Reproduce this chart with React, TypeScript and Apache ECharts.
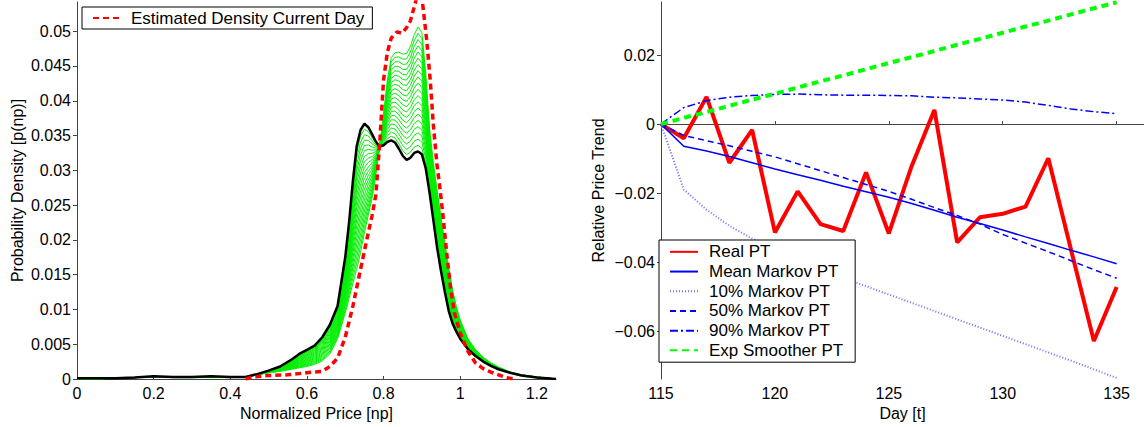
import React, { useEffect, useRef } from "react";
import * as echarts from "echarts";

const FONT = "'Liberation Sans', Arial, Helvetica, sans-serif";

// ---------- Left panel: densities ----------
const PRICE_X = [0, 0.05, 0.1, 0.15, 0.2, 0.25, 0.3, 0.35, 0.4, 0.44, 0.47, 0.5, 0.53, 0.56, 0.58, 0.6, 0.62, 0.64, 0.66, 0.68, 0.7, 0.71, 0.72, 0.73, 0.74, 0.75, 0.76, 0.77, 0.78, 0.79, 0.8, 0.81, 0.82, 0.83, 0.84, 0.85, 0.86, 0.87, 0.88, 0.89, 0.9, 0.91, 0.92, 0.93, 0.94, 0.95, 0.96, 0.97, 0.98, 0.99, 1.0, 1.02, 1.04, 1.06, 1.08, 1.1, 1.13, 1.16, 1.2, 1.25];

// black curve (starting density)
const START_DENSITY = [0.0001, 0.0001, 0.0001, 0.0002, 0.0004, 0.0003, 0.0003, 0.0004, 0.0003, 0.0003, 0.0007, 0.0012, 0.0018, 0.0028, 0.0036, 0.0042, 0.0048, 0.006, 0.0078, 0.0105, 0.0175, 0.0225, 0.0285, 0.0335, 0.0358, 0.0367, 0.0362, 0.0352, 0.0341, 0.0334, 0.0336, 0.0341, 0.0343, 0.034, 0.0331, 0.0321, 0.0315, 0.0318, 0.0325, 0.0327, 0.0323, 0.0303, 0.0268, 0.0228, 0.0188, 0.0155, 0.0125, 0.0098, 0.008, 0.0068, 0.0058, 0.0043, 0.0033, 0.0025, 0.0019, 0.0014, 0.0009, 0.0005, 0.0002, 0];

// top-most green curve (last iteration)
const END_DENSITY = [0, 0, 0.0001, 0.0002, 0.0003, 0.0002, 0.0002, 0.0002, 0.0002, 0.0003, 0.0006, 0.0009, 0.0011, 0.0014, 0.0016, 0.0018, 0.0021, 0.0026, 0.0036, 0.0058, 0.0095, 0.0116, 0.0138, 0.0158, 0.0182, 0.021, 0.0235, 0.026, 0.0295, 0.0335, 0.038, 0.043, 0.0462, 0.0469, 0.047, 0.0467, 0.0468, 0.0478, 0.0495, 0.0506, 0.0498, 0.044, 0.036, 0.031, 0.027, 0.0232, 0.0195, 0.016, 0.0128, 0.0104, 0.0085, 0.0058, 0.0042, 0.0031, 0.0023, 0.0017, 0.001, 0.0006, 0.0003, 0];

// progress of each green iteration from black toward the last curve
const GREEN_STEPS = [0.05, 0.1, 0.15, 0.2, 0.25, 0.3, 0.35, 0.4, 0.45, 0.5, 0.55, 0.6, 0.65, 0.7, 0.75, 0.8, 0.85, 0.9, 0.95, 1.0];

// red dashed: estimated density current day
const EST_X = [0.44, 0.46, 0.5, 0.55, 0.6, 0.64, 0.66, 0.68, 0.7, 0.72, 0.74, 0.76, 0.77, 0.78, 0.79, 0.8, 0.81, 0.82, 0.835, 0.848, 0.86, 0.87, 0.88, 0.89, 0.897, 0.904, 0.913, 0.922, 0.93, 0.939, 0.948, 0.955, 0.965, 0.975, 0.985, 1.0, 1.02, 1.04, 1.06, 1.08, 1.1, 1.12, 1.14];
const EST_Y = [0, 0.0003, 0.0005, 0.0006, 0.0009, 0.0011, 0.0018, 0.003, 0.006, 0.0105, 0.0158, 0.021, 0.0235, 0.0265, 0.034, 0.043, 0.047, 0.049, 0.0499, 0.0497, 0.0505, 0.0515, 0.0535, 0.0555, 0.056, 0.053, 0.0485, 0.0428, 0.0365, 0.031, 0.027, 0.0235, 0.018, 0.013, 0.0095, 0.0066, 0.004, 0.0023, 0.0015, 0.001, 0.0006, 0.0002, 0];

const LEFT_X_TICKS = [0, 0.2, 0.4, 0.6, 0.8, 1, 1.2];
const LEFT_Y_TICKS = [0, 0.005, 0.01, 0.015, 0.02, 0.025, 0.03, 0.035, 0.04, 0.045, 0.05];

// ---------- Right panel: price trends ----------
const DAYS = [115, 116, 117, 118, 119, 120, 121, 122, 123, 124, 125, 126, 127, 128, 129, 130, 131, 132, 133, 134, 135];
const REAL_PT = [0, -0.0041, 0.0079, -0.0112, -0.0017, -0.0314, -0.0195, -0.029, -0.031, -0.014, -0.0317, -0.0122, 0.0041, -0.0343, -0.027, -0.026, -0.0239, -0.0099, -0.0365, -0.0629, -0.0472];
const MEAN_PT = [0, -0.0064, -0.0078, -0.0094, -0.0112, -0.013, -0.0147, -0.0163, -0.018, -0.0196, -0.0212, -0.023, -0.025, -0.027, -0.0288, -0.0307, -0.0327, -0.0346, -0.0366, -0.0385, -0.0405];
const P10_PT = [0, -0.019, -0.0248, -0.0295, -0.0332, -0.036, -0.0388, -0.0417, -0.0445, -0.047, -0.0494, -0.0518, -0.0542, -0.0566, -0.059, -0.0614, -0.0638, -0.0662, -0.0686, -0.0711, -0.0736];
const P50_PT = [0, -0.0033, -0.0048, -0.0063, -0.0079, -0.0095, -0.0115, -0.0135, -0.0155, -0.0175, -0.0195, -0.0218, -0.0242, -0.0265, -0.029, -0.032, -0.0345, -0.037, -0.0396, -0.0422, -0.0447];
const P90_PT = [0, 0.0048, 0.0068, 0.0078, 0.0083, 0.0086, 0.0087, 0.0085, 0.0084, 0.0084, 0.0083, 0.0082, 0.0078, 0.0076, 0.0073, 0.007, 0.0064, 0.0054, 0.0044, 0.0036, 0.003];
const EXP_PT = [0, 0.0018, 0.0035, 0.0053, 0.0071, 0.0088, 0.0106, 0.0124, 0.0141, 0.0159, 0.0177, 0.0194, 0.0212, 0.023, 0.0247, 0.0265, 0.0283, 0.03, 0.0318, 0.0336, 0.0353];

const RIGHT_X_TICKS = [115, 120, 125, 130, 135];
const RIGHT_Y_TICKS = [-0.06, -0.04, -0.02, 0, 0.02];

const AXIS_COLOR = "#444";

function fmt(v: number): string {
  const s = String(+v.toFixed(4));
  return s.startsWith("-") ? "\u2212" + s.slice(1) : s;
}

const axisBase = {
  axisLine: { show: true, lineStyle: { color: AXIS_COLOR, width: 1 } },
  splitLine: { show: false },
  nameTextStyle: { fontSize: 16, color: "#000", fontFamily: FONT },
};

const legendBase = {
  orient: "vertical",
  backgroundColor: "#fff",
  borderColor: "#000",
  borderWidth: 1,
  borderRadius: 0,
  itemWidth: 28,
  itemHeight: 14,
  selectedMode: false,
  itemStyle: { color: "transparent", borderColor: "transparent", borderWidth: 0, opacity: 0 },
};

export default function App() {
  const ref = useRef<HTMLDivElement>(null);

  useEffect(() => {
    if (!ref.current) return;
    const chart = echarts.init(ref.current, undefined, { renderer: "svg" });

    const greenSeries = GREEN_STEPS.map((w) => ({
      type: "line",
      xAxisIndex: 0,
      yAxisIndex: 0,
      symbol: "none",
      silent: true,
      lineStyle: { color: "#00ee00", width: 1 },
      data: PRICE_X.map((x, i) => [x, (1 - w) * START_DENSITY[i] + w * END_DENSITY[i]]),
    }));

    const rightLine = (name: string, vals: number[], color: string, width: number, type: any) => ({
      name,
      type: "line",
      xAxisIndex: 1,
      yAxisIndex: 1,
      symbol: "none",
      lineStyle: { color, width, type },
      itemStyle: { color },
      data: DAYS.map((d, i) => [d, vals[i]]),
    });

    const option: any = {
      animation: false,
      backgroundColor: "#fff",
      textStyle: { fontFamily: FONT },
      grid: [
        { left: 77, top: 2, width: 479, height: 377 },
        { left: 661, top: 2, width: 483, height: 377 },
      ],
      xAxis: [
        {
          type: "value",
          gridIndex: 0,
          min: 0,
          max: 1.25,
          name: "Normalized Price [np]",
          nameLocation: "middle",
          nameGap: 22,
          ...axisBase,
          axisTick: { show: true, inside: true, length: 3, customValues: LEFT_X_TICKS, lineStyle: { color: AXIS_COLOR } },
          axisLabel: { customValues: LEFT_X_TICKS, formatter: fmt, fontSize: 16, color: "#000", margin: 6, fontFamily: FONT },
        },
        {
          type: "value",
          gridIndex: 1,
          min: 115,
          max: 136.2,
          name: "Day [t]",
          nameLocation: "middle",
          nameGap: 22,
          ...axisBase,
          axisTick: { show: true, inside: true, length: 3, customValues: RIGHT_X_TICKS, lineStyle: { color: AXIS_COLOR } },
          axisLabel: { customValues: RIGHT_X_TICKS, formatter: fmt, fontSize: 16, color: "#000", margin: 6, fontFamily: FONT },
        },
      ],
      yAxis: [
        {
          type: "value",
          gridIndex: 0,
          min: 0,
          max: 0.0542,
          name: "Probability Density [p(np)]",
          nameLocation: "middle",
          nameGap: 52,
          ...axisBase,
          axisTick: { show: true, inside: false, length: 4, customValues: LEFT_Y_TICKS, lineStyle: { color: AXIS_COLOR } },
          axisLabel: { customValues: LEFT_Y_TICKS, formatter: fmt, fontSize: 16, color: "#000", margin: 6, fontFamily: FONT },
        },
        {
          type: "value",
          gridIndex: 1,
          min: -0.0739,
          max: 0.0354,
          name: "Relative Price Trend",
          nameLocation: "middle",
          nameGap: 55,
          ...axisBase,
          axisTick: { show: true, inside: false, length: 4, customValues: RIGHT_Y_TICKS, lineStyle: { color: AXIS_COLOR } },
          axisLabel: { customValues: RIGHT_Y_TICKS, formatter: fmt, fontSize: 16, color: "#000", margin: 6, fontFamily: FONT },
        },
      ],
      legend: [
        {
          ...legendBase,
          data: ["Estimated Density Current Day"],
          left: 82,
          top: 7,
          padding: [2, 8, 2, 10],
          textStyle: { fontSize: 17, color: "#000", fontFamily: FONT, lineHeight: 18, padding: [0, 0, 0, 5] },
        },
        {
          ...legendBase,
          data: ["Real PT", "Mean Markov PT", "10% Markov PT", "50% Markov PT", "90% Markov PT", "Exp Smoother PT"],
          left: 659,
          top: 240,
          padding: [2, 12, 2, 10],
          itemGap: 0,
          textStyle: { fontSize: 17, color: "#000", fontFamily: FONT, lineHeight: 19.7, padding: [0, 0, 0, 6] },
        },
      ],
      series: [
        ...greenSeries,
        {
          type: "line",
          xAxisIndex: 0,
          yAxisIndex: 0,
          symbol: "none",
          silent: true,
          lineStyle: { color: "#000", width: 2.5 },
          data: PRICE_X.map((x, i) => [x, START_DENSITY[i]]),
        },
        {
          name: "Estimated Density Current Day",
          type: "line",
          xAxisIndex: 0,
          yAxisIndex: 0,
          symbol: "none",
          lineStyle: { color: "#ff0000", width: 3.5, type: [6, 4] },
          itemStyle: { color: "#ff0000" },
          data: EST_X.map((x, i) => [x, EST_Y[i]]),
        },
        rightLine("Real PT", REAL_PT, "#ff0000", 4, "solid"),
        rightLine("Mean Markov PT", MEAN_PT, "#0000ff", 1.5, "solid"),
        rightLine("10% Markov PT", P10_PT, "#7070ff", 2, [1, 2]),
        rightLine("50% Markov PT", P50_PT, "#0000ff", 1.5, [6, 4]),
        rightLine("90% Markov PT", P90_PT, "#0000ff", 1.5, [8, 3, 2, 3]),
        rightLine("Exp Smoother PT", EXP_PT, "#00ff00", 4, [7, 5]),
      ],
    };

    chart.setOption(option);
    return () => chart.dispose();
  }, []);

  return (
    <div
      ref={ref}
      style={{ position: "fixed", left: 0, top: 0, width: 1144, height: 427, background: "#fff" }}
    />
  );
}
